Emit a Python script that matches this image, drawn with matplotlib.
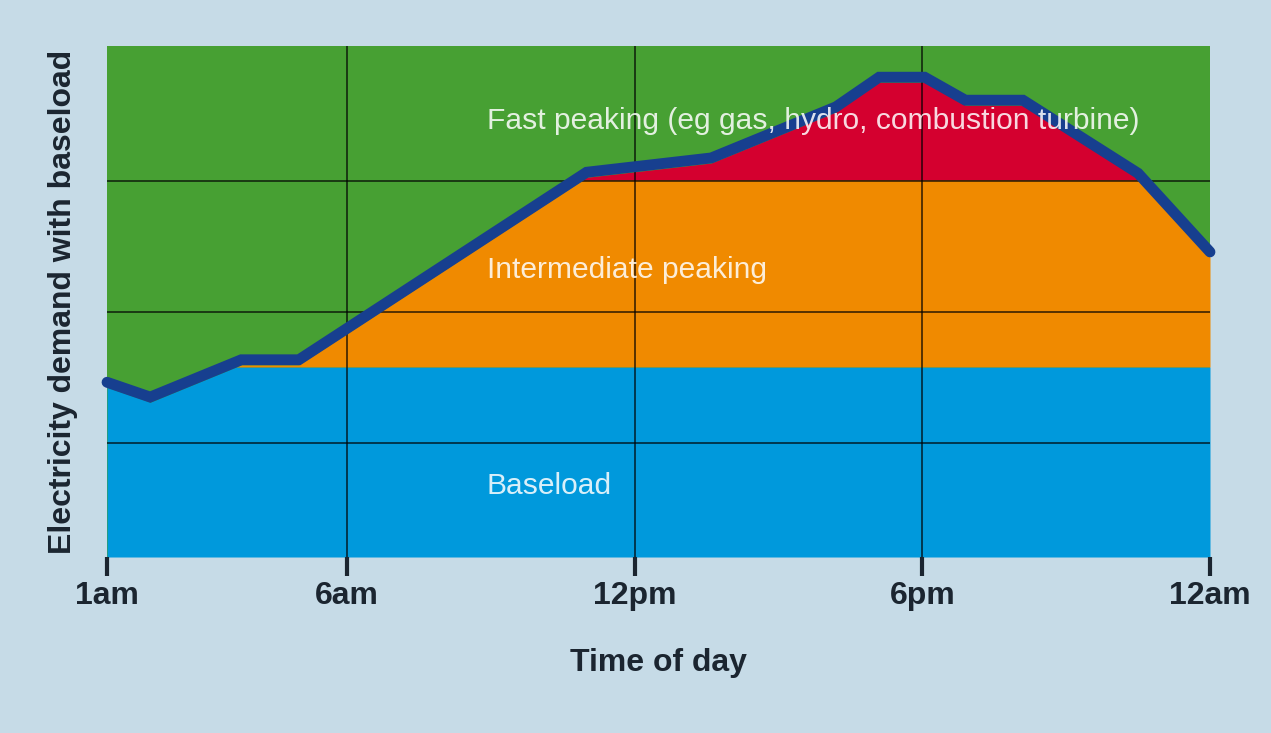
import matplotlib.pyplot as plt
import numpy as np

# Dados (hora do dia, demanda em unidades relativas 0-100)
horas = [1, 1.9, 3.8, 5.0, 11.0, 13.6, 16.2, 17.1, 18.05, 18.9, 20.1, 22.5, 24]
demanda = [34.2, 31.3, 38.6, 38.6, 75.3, 78.1, 88.1, 93.9, 93.9, 89.4, 89.4, 75.1, 59.7]

nivel_base = 37.2          # topo da carga de base
nivel_intermediario = 73.8  # topo do pico intermediário

tick_horas = [1, 6, 12, 18, 24]
tick_labels = ['1am', '6am', '12pm', '6pm', '12am']
grade_y = [22.3, 47.9, 73.6]

cor_fundo = '#c6dbe7'
cor_verde = '#47a033'
cor_laranja = '#f08a00'
cor_azul = '#0099dc'
cor_vermelho = '#d4002f'
cor_linha = '#173f8f'
cor_texto = '#1b2530'

plt.rcParams['font.family'] = ['Liberation Sans', 'DejaVu Sans']

fig = plt.figure(figsize=(12.71, 7.33), dpi=100, facecolor=cor_fundo)
ax = fig.add_axes([0.0842, 0.2401, 0.8678, 0.6971])
ax.set_facecolor(cor_verde)

# Interpolação fina só para recortar as faixas de preenchimento
x = np.linspace(horas[0], horas[-1], 2000)
d = np.interp(x, horas, demanda) - 1.0  # preenchimento encosta na borda inferior da linha

ax.fill_between(x, 0, np.minimum(d, nivel_base), color=cor_azul, lw=0, zorder=1)
ax.fill_between(x, nivel_base, np.clip(d, nivel_base, nivel_intermediario),
                color=cor_laranja, lw=0, zorder=1)
ax.fill_between(x, nivel_intermediario, np.maximum(d, nivel_intermediario),
                color=cor_vermelho, lw=0, zorder=1)

# Grade
for xv in tick_horas[1:-1]:
    ax.axvline(xv, color='black', lw=1.2, alpha=0.75, zorder=2)
for yv in grade_y:
    ax.axhline(yv, color='black', lw=1.2, alpha=0.75, zorder=2)

ax.plot(horas, demanda, color=cor_linha, lw=7.8, solid_joinstyle='miter',
        solid_capstyle='round', zorder=3, clip_on=False)

# Rótulos das faixas
ax.text(8.92, 85.3, 'Fast peaking (eg gas, hydro, combustion turbine)',
        color='white', alpha=0.85, fontsize=21.6, ha='left', va='center', zorder=4)
ax.text(8.92, 56.2, 'Intermediate peaking', color='white', alpha=0.85,
        fontsize=21.6, ha='left', va='center', zorder=4)
ax.text(8.92, 13.9, 'Baseload', color='white', alpha=0.85,
        fontsize=21.6, ha='left', va='center', zorder=4)

ax.set_xlim(1, 24)
ax.set_ylim(0, 100)
ax.set_xticks(tick_horas)
ax.set_xticklabels(tick_labels, fontsize=23, fontweight='bold', color=cor_texto)
ax.set_yticks([])
ax.tick_params(axis='x', length=14, width=3, color=cor_texto, pad=3)
for s in ax.spines.values():
    s.set_visible(False)

ax.set_xlabel('Time of day', fontsize=23, fontweight='bold', color=cor_texto, labelpad=27)
ax.set_ylabel('Electricity demand with baseload', fontsize=23, fontweight='bold',
              color=cor_texto, labelpad=21)

fig.savefig('out.png', dpi=100, facecolor=cor_fundo)
